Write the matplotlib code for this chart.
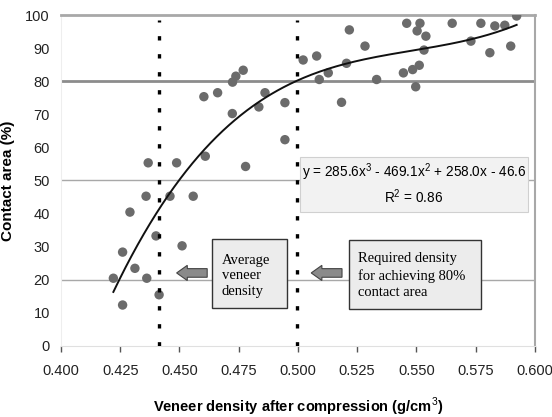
import numpy as np
import matplotlib.pyplot as plt
from matplotlib.patches import FancyArrow

# measured points (density g/cm3, contact area %)
density = [0.4221, 0.4260, 0.4260, 0.4291, 0.4312, 0.4359, 0.4362, 0.4368,
           0.4401, 0.4414, 0.4460, 0.4488, 0.4511, 0.4558,
           0.4603, 0.4609, 0.4661, 0.4723, 0.4724, 0.4738, 0.4769, 0.4779,
           0.4835, 0.4861, 0.4945, 0.4945,
           0.5022, 0.5079, 0.5090, 0.5128, 0.5184, 0.5205, 0.5217, 0.5283,
           0.5332, 0.5445, 0.5459, 0.5484, 0.5497, 0.5503, 0.5512, 0.5515,
           0.5532, 0.5540, 0.5651, 0.5730, 0.5772, 0.5810, 0.5831, 0.5873,
           0.5898, 0.5923]
area = [20.4, 28.3, 12.3, 40.4, 23.4, 45.2, 20.4, 55.3,
        33.2, 15.4, 45.2, 55.3, 30.2, 45.2,
        75.3, 57.3, 76.5, 70.2, 79.7, 81.5, 83.3, 54.2,
        72.2, 76.5, 73.5, 62.3,
        86.4, 87.6, 80.5, 82.5, 73.6, 85.4, 95.5, 90.6,
        80.5, 82.5, 97.5, 83.5, 78.3, 95.2, 84.8, 97.5,
        89.4, 93.6, 97.5, 92.1, 97.5, 88.6, 96.7, 96.9,
        90.6, 99.7]

avg_density = 0.4414
req_density = 0.4995
xticks = [0.400, 0.425, 0.450, 0.475, 0.500, 0.525, 0.550, 0.575, 0.600]
yticks = [0, 10, 20, 30, 40, 50, 60, 70, 80, 90, 100]
equation = 'y = 285.6x$^3$ - 469.1x$^2$ + 258.0x - 46.6'
r2_text = 'R$^2$ = 0.86'

plt.rcParams['font.family'] = ['Liberation Sans', 'DejaVu Sans']
plt.rcParams['mathtext.fontset'] = 'custom'
plt.rcParams['mathtext.rm'] = 'Liberation Sans'

fig = plt.figure(figsize=(5.52, 4.17), dpi=100)
ax = fig.add_axes([0.1105, 0.171, 0.8585, 0.793])

x = np.array(density)
y = np.array(area)
# cubic trend line like the spreadsheet one
coef = np.polyfit(x, y, 3)
xs = np.linspace(x.min(), x.max(), 200)
ax.plot(xs, np.polyval(coef, xs), color='#111111', lw=1.4, zorder=4)

ax.scatter(x, y, s=46, color='#6b6b6b', edgecolors='none', zorder=3)

# grid lines
for g in [20, 50]:
    ax.axhline(g, color='#a8a8a8', lw=1.0, zorder=1)
ax.axhline(80, color='#8c8c8c', lw=2.0, zorder=1)

# vertical density markers
for d in [avg_density, req_density]:
    ax.plot([d, d], [0, 98.5], color='black', lw=2.4,
            ls=(0, (1.3, 4.1)), dash_capstyle='butt', zorder=5)

ax.set_xlim(0.4, 0.6)
ax.set_ylim(0, 100)
ax.set_xticks(xticks)
ax.set_xticklabels(['%.3f' % t for t in xticks])
ax.set_yticks(yticks)
ax.tick_params(axis='x', length=4, width=1, color='#555555', pad=9,
               labelsize=10.5, labelcolor='#222222')
ax.tick_params(axis='y', length=0, pad=8, labelsize=10.5, labelcolor='#222222')

ax.spines['top'].set_color('#a8a8a8')
ax.spines['top'].set_linewidth(2)
ax.spines['right'].set_color('#a8a8a8')
ax.spines['right'].set_linewidth(1.5)
ax.spines['left'].set_color('#eeeeee')
ax.spines['bottom'].set_color('#e0e0e0')

ax.set_xlabel('Veneer density after compression (g/cm$^3$)', fontsize=10.5,
              fontweight='bold', labelpad=13)
ax.set_ylabel('Contact area (%)', fontsize=11, fontweight='bold')
ax.yaxis.set_label_coords(-0.097, 0.5)

# equation box
ax.add_patch(plt.Rectangle((0.5008, 40.5), 0.0962, 16.7, facecolor='#f2f2f2',
                           edgecolor='#d0d0d0', lw=0.8, zorder=2))
ax.text(0.5489, 52.4, equation, ha='center', va='center', fontsize=9.8, zorder=6)
ax.text(0.5489, 45.2, r2_text, ha='center', va='center', fontsize=9.8, zorder=6)

# annotation boxes
ax.add_patch(plt.Rectangle((0.4637, 11.3), 0.0317, 20.9, facecolor='#ececec',
                           edgecolor='#333333', lw=1.0, zorder=6))
ax.text(0.4678, 21.2, 'Average\nveneer\ndensity', family='Liberation Serif',
        fontsize=10.5, ha='left', va='center', linespacing=1.25, zorder=7)
ax.add_patch(plt.Rectangle((0.5215, 11.1), 0.0556, 20.9, facecolor='#ececec',
                           edgecolor='#333333', lw=1.0, zorder=6))
ax.text(0.5254, 21.2, 'Required density\nfor achieving 80%\ncontact area',
        family='Liberation Serif', fontsize=10.5, ha='left', va='center',
        linespacing=1.35, zorder=7)

for x0, x1 in [(0.4617, 0.4488), (0.5186, 0.5056)]:
    ax.add_patch(FancyArrow(x0, 22.0, x1 - x0, 0, width=2.6, head_width=4.6,
                            head_length=0.0045, length_includes_head=True,
                            facecolor='#8a8a8a', edgecolor='#444444', lw=0.8,
                            zorder=6))

fig.savefig('out.png', dpi=100)
